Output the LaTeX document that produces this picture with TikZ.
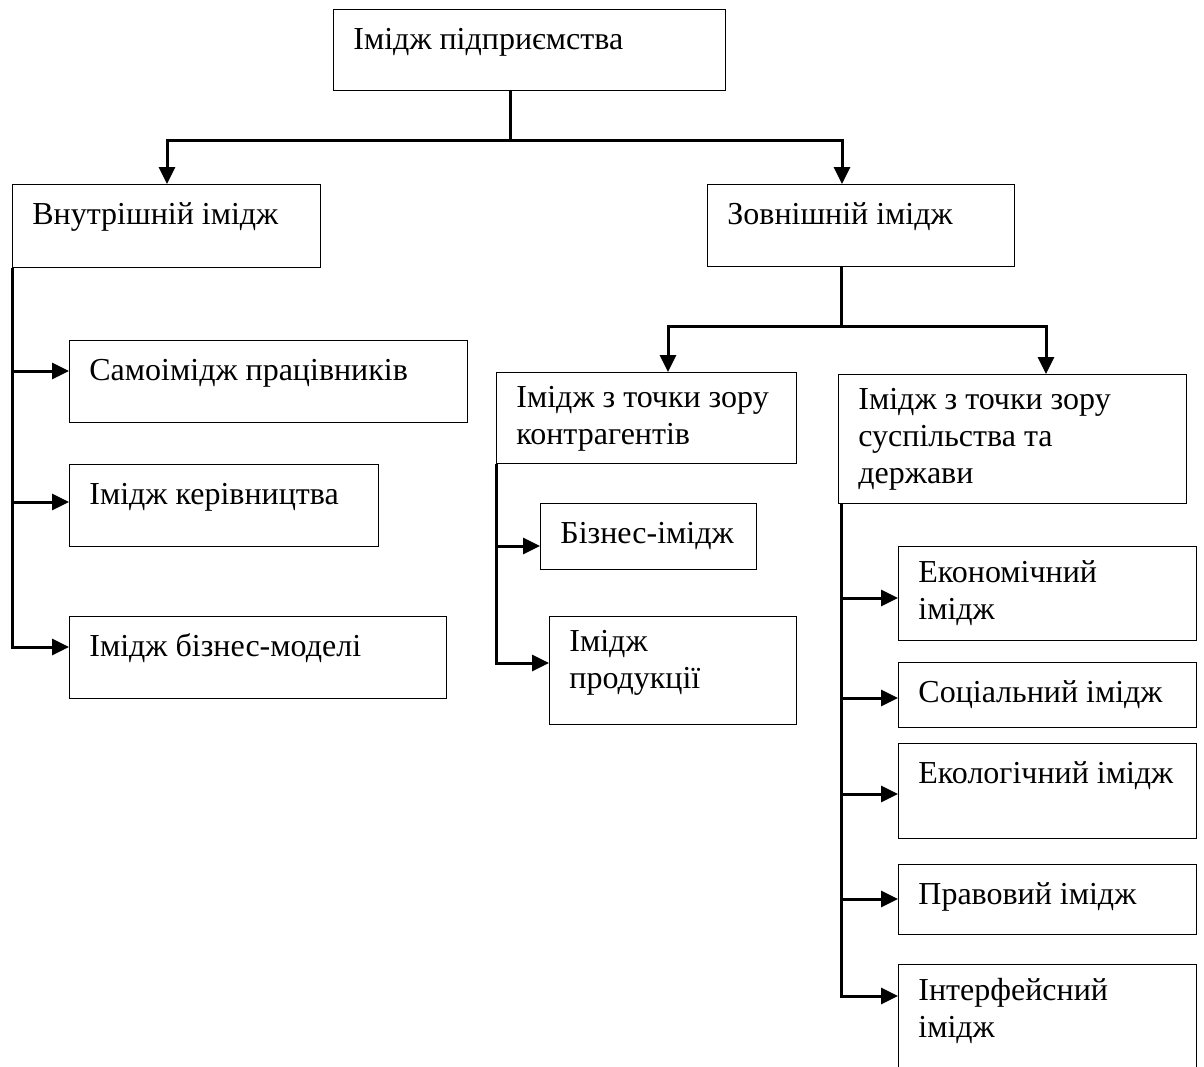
\documentclass[tikz,border=0pt]{standalone}
\usepackage{fontspec}
\setmainfont{Liberation Serif}
\usetikzlibrary{arrows.meta}
\begin{document}
\begin{tikzpicture}[x=0.5pt,y=-0.5pt,box/.style={draw,line width=0.7pt,anchor=north west,inner
					sep=0pt},txt/.style={anchor=north west,align=left,inner xsep=10pt,inner
					ysep=7.12pt,font=\fontsize{16pt}{18.4pt}\selectfont,execute at begin node=\strut},
					line/.style={line width=1.5pt},arr/.style={line width=1.5pt,-{Triangle[length=8.5pt,width=8pt]}}]
		\useasboundingbox (0,0) rectangle (1204,1066);
		% top level
		\node[box,minimum width=196pt,minimum height=40.5pt,label={[txt]north west:Імідж підприємства}] (firm) at (333,9) {};
		\node[box,minimum width=154pt,minimum height=41.5pt,label={[txt]north west:Внутрішній імідж}] (inner) at (12,184) {};
		\node[box,minimum width=153.5pt,minimum height=41pt,label={[txt]north west:Зовнішній імідж}] (outer) at (707,184) {};
		% internal image
		\node[box,minimum width=199pt,minimum height=41pt,label={[txt]north west:Самоімідж працівників}] (self) at (69,340) {};
		\node[box,minimum width=154.5pt,minimum height=41pt,label={[txt]north west:Імідж керівництва}] (mgmt) at (69,464) {};
		\node[box,minimum width=188.5pt,minimum height=41pt,label={[txt]north west:Імідж бізнес-моделі}] (model) at (69,616) {};
		% external image
		\node[box,minimum width=150pt,minimum height=45.5pt,label={[txt]north west:{Імідж з точки зору\\контрагентів}}] (partners) at (496,372) {};
		\node[box,minimum width=174pt,minimum height=64.5pt,label={[txt]north west:{Імідж з точки зору\\суспільства та\\держави}}] (society) at (838,374) {};
		\node[box,minimum width=108pt,minimum height=33pt,label={[txt]north west:Бізнес-імідж}] (biz) at (540,503) {};
		\node[box,minimum width=123.5pt,minimum height=54pt,label={[txt]north west:{Імідж\\продукції}}] (product) at (549,616) {};
		\node[box,minimum width=149pt,minimum height=47pt,label={[txt]north west:{Економічний\\імідж}}] (econ) at (898,546) {};
		\node[box,minimum width=149pt,minimum height=32.5pt,label={[txt]north west:Соціальний імідж}] (social) at (898,662) {};
		\node[box,minimum width=149pt,minimum height=47.5pt,label={[txt]north west:Екологічний імідж}] (eco) at (898,743) {};
		\node[box,minimum width=149pt,minimum height=35pt,label={[txt]north west:Правовий імідж}] (legal) at (898,864) {};
		\node[box,minimum width=149pt,minimum height=65pt,label={[txt]north west:{Інтерфейсний\\імідж}}] (iface) at (898,964) {};
		% connectors
		\coordinate (split) at (510,140);
		\draw[line] (firm.south -| split) -- (split);
		\draw[arr] (split) -| ([xshift=77.5pt]inner.north west);
		\draw[arr] (split) -| ([xshift=67.5pt]outer.north west);
		\foreach \n/\d in {self/15.5,mgmt/19,model/15.5}
			\draw[arr] (inner.south west) |- ([yshift=-\d pt]\n.north west);
		\coordinate (osplit) at (841,326);
		\draw[line] (outer.south -| osplit) -- (osplit);
		\draw[arr] (osplit) -| ([xshift=86pt]partners.north west);
		\draw[arr] (osplit) -| ([xshift=104pt]society.north west);
		\foreach \n/\d in {biz/21.5,product/23.5}
			\draw[arr] (partners.south west) |- ([yshift=-\d pt]\n.north west);
		\foreach \n/\d in {econ/26,social/18,eco/25.5,legal/17.5,iface/16}
			\draw[arr] ([xshift=1.5pt]society.south west) |- ([yshift=-\d pt]\n.north west);
	\end{tikzpicture}
\end{document}
